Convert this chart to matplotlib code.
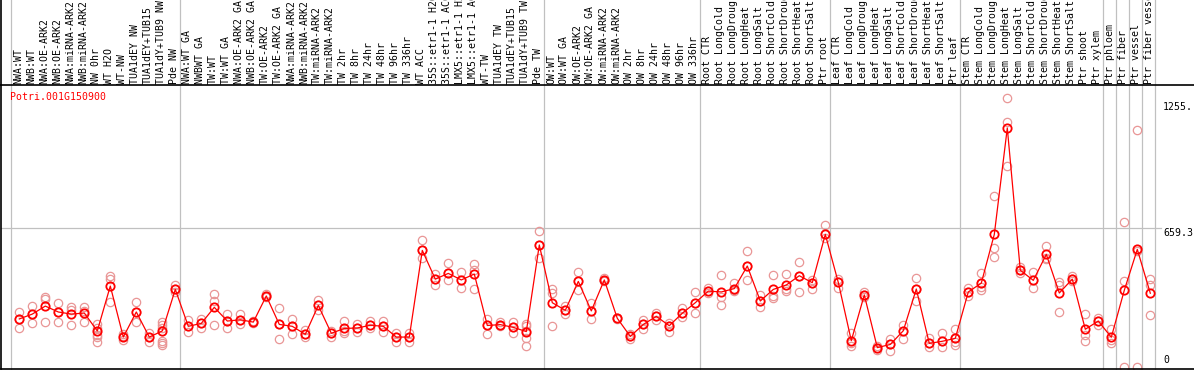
#!/usr/bin/env python3
import matplotlib
matplotlib.use("Agg")
import matplotlib.pyplot as plt
from matplotlib.transforms import blended_transform_factory

gene = "Potri.001G150900"

labels = [
    "NWA:WT", "NWB:WT", "NWA:OE-ARK2", "NWB:OE-ARK2", "NWA:miRNA-ARK2", "NWB:miRNA-ARK2",
    "NW 0hr", "WT H2O", "WT-NW", "TUA1dEY NW", "TUA1dEY+TUB15", "TUA1dY+TUB9 NW", "Pde NW",
    "NWA:WT GA", "NWBWT GA", "TW:WT", "TW:WT GA", "NWA:OE-ARK2 GA", "NWB:OE-ARK2 GA",
    "TW:OE-ARK2", "TW:OE-ARK2 GA", "NWA:miRNA-ARK2", "NWB:miRNA-ARK2", "TW:miRNA-ARK2",
    "TW:miRNA-ARK2", "TW 2hr", "TW 8hr", "TW 24hr", "TW 48hr", "TW 96hr", "TW 336hr",
    "WT ACC", "35S::etr1-1 H2O", "35S::etr1-1 ACC", "LMX5::etr1-1 H2O", "LMX5::etr1-1 ACC",
    "WT-TW", "TUA1dEY TW", "TUA1dEY+TUB15", "TUA1dY+TUB9 TW", "Pde TW",
    "OW:WT", "OW:WT GA", "OW:OE-ARK2", "OW:OE-ARK2 GA", "OW:miRNA-ARK2", "OW:miRNA-ARK2",
    "OW 2hr", "OW 8hr", "OW 24hr", "OW 48hr", "OW 96hr", "OW 336hr",
    "Root CTR", "Root LongCold", "Root LongDrought", "Root LongHeat", "Root LongSalt",
    "Root ShortCold", "Root ShortDrought", "Root ShortHeat", "Root ShortSalt", "Ptr root",
    "Leaf CTR", "Leaf LongCold", "Leaf LongDrought", "Leaf LongHeat", "Leaf LongSalt",
    "Leaf ShortCold", "Leaf ShortDrought", "Leaf ShortHeat", "Leaf ShortSalt", "Ptr leaf",
    "Stem CTR", "Stem LongCold", "Stem LongDrought", "Stem LongHeat", "Stem LongSalt",
    "Stem ShortCold", "Stem ShortDrought", "Stem ShortHeat", "Stem ShortSalt",
    "Ptr shoot", "Ptr xylem", "Ptr phloem", "Ptr fiber", "Ptr vessel", "Ptr fiber vessel",
]

# index where each sample group starts (last entry = end)
group_starts = [0, 13, 41, 53, 63, 73, 84, 85, 86, 87, 88]

means = [
    228, 251, 289, 261, 251, 256, 171, 384, 142, 261, 142, 171, 368,
    193, 207, 283, 218, 224, 213, 337, 202, 193, 155, 292, 160, 183, 185, 198, 193, 142, 142,
    553, 417, 444, 413, 441, 197, 201, 188, 168, 579,
    305, 269, 406, 266, 413, 231, 145, 202, 240, 196, 255, 305,
    360, 356, 372, 479, 313, 368, 389, 433, 400, 629,
    401, 125, 342, 92, 107, 172, 370, 112, 122, 136,
    356, 398, 629, 1134, 459, 411, 534, 351, 417, 179, 218,
    141, 364, 558, 350,
]

reps = [
    [262, 228, 187], [289, 251, 207], [334, 321, 212], [302, 261, 212],
    [285, 272, 198], [285, 266, 215], [202, 185, 150, 144, 120], [432, 416, 308],
    [155, 145, 127], [308, 261, 212], [163, 142, 120], [215, 200, 186, 125, 113, 106],
    [388, 368, 357],
    [223, 193, 168], [229, 207, 185], [346, 313, 198], [251, 218, 183],
    [251, 224, 204], [218, 212, 208], [345, 337, 331], [278, 202, 131],
    [226, 193, 155], [176, 155, 144], [318, 292, 270], [169, 160, 141],
    [217, 172, 163], [202, 185, 168], [218, 198, 187], [218, 193, 167],
    [160, 142, 120], [160, 142, 120],
    [602, 553, 516], [441, 417, 389], [492, 444, 413], [451, 413, 373],
    [489, 460, 368], [226, 197, 155], [212, 201, 193], [212, 188, 163],
    [205, 195, 170, 136, 101], [645, 579, 516],
    [370, 350, 193], [289, 269, 251], [449, 406, 365], [302, 266, 226],
    [421, 412, 408], [233, 231, 228], [155, 145, 131], [223, 202, 180],
    [255, 240, 223], [210, 196, 164], [278, 255, 236], [354, 305, 255],
    [373, 360, 352], [435, 334, 294], [397, 365, 360], [549, 479, 411],
    [342, 313, 283], [435, 338, 329], [441, 368, 360], [497, 433, 354],
    [413, 400, 368], [672, 629, 613],
    [418, 401, 373], [163, 112, 100], [357, 342, 334], [100, 92, 81],
    [134, 107, 76], [197, 172, 134], [421, 370, 315], [136, 112, 93],
    [160, 122, 93], [179, 136, 120, 103],
    [375, 356, 338], [444, 398, 380, 365], [811, 563, 523], [1275, 1161, 955],
    [476, 459, 448], [449, 411, 373], [574, 518, 511], [401, 388, 261],
    [433, 417, 408], [251, 152, 125], [234, 218, 198],
    [179, 127, 116], [686, 408, 0], [1123, 552, 0], [418, 389, 245],
]

yticks = [1255, 659.3, 0]
ytick_text = ["1255.", "659.3", "0"]

W, H = 1194, 370
X0, DX = 19.3, 13.0          # pixel x of first sample, pixel step
Y0, SY = 367.0, 0.2108       # pixel y of value 0, pixels per unit


def px_to_x(px):
    return (px - X0) / DX


def px_to_v(py):
    return (Y0 - py) / SY


mono = "DejaVu Sans Mono"
fs = 7.1
red = "#FF0000"
pink = "#E99696"
grey = "#C0C0C0"

fig = plt.figure(figsize=(W / 100, H / 100), dpi=100)
top_px, bot_px, left_px = 85.0, 368.7, 1.0
ax = fig.add_axes([left_px / W, (H - bot_px) / H, (W - left_px) / W, (bot_px - top_px) / H])
ax.set_xlim(px_to_x(left_px), px_to_x(W))
ax.set_ylim(px_to_v(bot_px), px_to_v(top_px))
ax.set_xticks([])
ax.set_yticks([])
for side in ["left", "bottom", "top"]:
    ax.spines[side].set_linewidth(1.2)
    ax.spines[side].set_color("black")
ax.spines["right"].set_visible(False)

# left border continues through the label strip
fig.add_artist(plt.Line2D([left_px / W, left_px / W], [(H - top_px) / H, 1],
                          color="black", lw=1.2, transform=fig.transFigure))

# group separators run across the whole figure height
trans = blended_transform_factory(ax.transData, fig.transFigure)
for g in group_starts:
    ax.plot([g - 0.62, g - 0.62], [0, 1], color=grey, lw=0.9, transform=trans,
            clip_on=False, zorder=0)

ax.plot([px_to_x(left_px), px_to_x(1161)], [yticks[1], yticks[1]], color=grey, lw=0.9, zorder=0)

xs = list(range(len(means)))
for i, r in enumerate(reps):
    ax.plot([i] * len(r), r, linestyle="none", marker="o", ms=6, mfc="none",
            mec=pink, mew=0.9, zorder=2, clip_on=False)
ax.plot(xs, means, color=red, lw=0.9, zorder=3)
ax.plot(xs, means, linestyle="none", marker="o", ms=6, mfc="none", mec=red,
        mew=1.3, zorder=4)

# rotated sample labels above the plot
for i, lab in enumerate(labels):
    ax.text(i - 0.08, (H - 83.5) / H, lab, rotation=90, ha="center", va="bottom",
            family=mono, fontsize=fs, color="black", transform=trans, clip_on=False)

ax.text(px_to_x(9.5), px_to_v(97), gene, color=red, family=mono, fontsize=fs,
        ha="left", va="center")

xl = px_to_x(1163)
ax.text(xl, yticks[0], ytick_text[0], family=mono, fontsize=fs, ha="left", va="top")
ax.text(xl, yticks[1], ytick_text[1], family=mono, fontsize=fs, ha="left", va="top")
ax.text(xl, 9, ytick_text[2], family=mono, fontsize=fs, ha="left", va="bottom")

fig.savefig("out.png", dpi=100)
